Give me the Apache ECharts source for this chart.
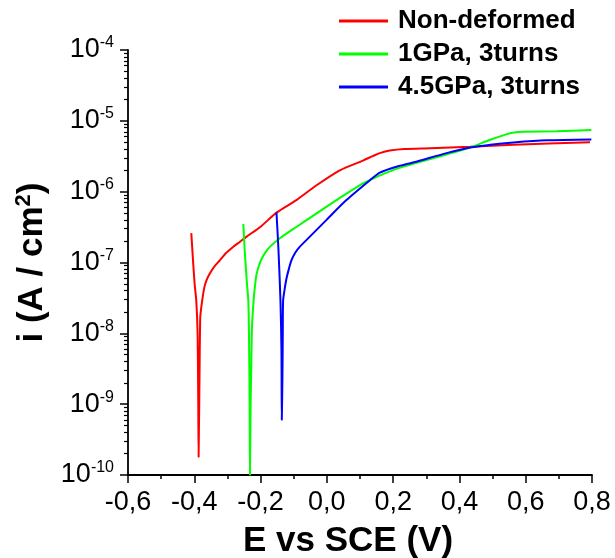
<!DOCTYPE html>
<html>
<head>
<meta charset="utf-8">
<script src="https://cdn.jsdelivr.net/npm/echarts@6/dist/echarts.min.js"></script>
<style>
html,body{margin:0;padding:0;background:#fff;}
#chart{width:615px;height:558px;}
</style>
</head>
<body>
<div id="chart"></div>
<script>
// Series names
var seriesNames = ['Non-deformed', '1GPa, 3turns', '4.5GPa, 3turns'];
var seriesColors = ['#ff0000', '#00ff00', '#0000ff'];

// Non-deformed
var redE = [-0.409, -0.404, -0.399, -0.394, -0.390, -0.388, -0.387, -0.384, -0.382, -0.379, -0.374, -0.369, -0.362, -0.354, -0.340, -0.323, -0.305, -0.283, -0.263, -0.243, -0.200, -0.151, -0.092, -0.031, 0.039, 0.109, 0.140, 0.160, 0.190, 0.234, 0.311, 0.432, 0.563, 0.794];
var redI = [2.6e-7, 1.1e-7, 5.0e-8, 2.9e-8, 1.0e-8, 1.0e-9, 1.8e-10, 3.3e-9, 1.7e-8, 2.3e-8, 3.4e-8, 4.6e-8, 5.8e-8, 6.9e-8, 8.7e-8, 1.07e-7, 1.35e-7, 1.66e-7, 1.95e-7, 2.3e-7, 3.2e-7, 5.1e-7, 7.6e-7, 1.23e-6, 2.0e-6, 2.75e-6, 3.2e-6, 3.5e-6, 3.8e-6, 4.0e-6, 4.1e-6, 4.3e-6, 4.6e-6, 5.0e-6];

// 1GPa, 3turns
var greenE = [-0.252, -0.248, -0.241, -0.237, -0.235, -0.233, -0.232, -0.230, -0.228, -0.226, -0.221, -0.217, -0.212, -0.205, -0.197, -0.185, -0.172, -0.142, -0.091, -0.032, 0.029, 0.099, 0.150, 0.160, 0.210, 0.263, 0.361, 0.432, 0.493, 0.543, 0.570, 0.593, 0.693, 0.798];
var greenI = [3.5e-7, 1.5e-7, 5.0e-8, 2.9e-8, 1.0e-8, 1.0e-9, 1.0e-10, 1.0e-9, 3.4e-9, 1.2e-8, 2.9e-8, 4.6e-8, 6.9e-8, 9.0e-8, 1.12e-7, 1.4e-7, 1.66e-7, 2.2e-7, 3.2e-7, 4.9e-7, 7.6e-7, 1.23e-6, 1.62e-6, 1.7e-6, 2.1e-6, 2.5e-6, 3.35e-6, 4.2e-6, 5.4e-6, 6.5e-6, 6.9e-6, 7.0e-6, 7.15e-6, 7.4e-6];

// 4.5GPa, 3turns
var blueE = [-0.152, -0.146, -0.140, -0.137, -0.136, -0.134, -0.133, -0.132, -0.127, -0.122, -0.115, -0.107, -0.095, -0.082, -0.052, -0.001, 0.059, 0.130, 0.160, 0.210, 0.263, 0.361, 0.432, 0.500, 0.563, 0.663, 0.798];
var blueI = [5.1e-7, 1.5e-7, 2.9e-8, 5.8e-9, 6.0e-10, 2.5e-9, 1.0e-8, 2.9e-8, 4.3e-8, 5.9e-8, 8.0e-8, 1.07e-7, 1.38e-7, 1.66e-7, 2.3e-7, 4.0e-7, 7.6e-7, 1.45e-6, 1.86e-6, 2.25e-6, 2.6e-6, 3.5e-6, 4.2e-6, 4.65e-6, 4.95e-6, 5.3e-6, 5.45e-6];

// Axis ranges / ticks
var xMin = -0.6, xMax = 0.8, xInterval = 0.2;
var yDecades = [-10, -9, -8, -7, -6, -5, -4];

function pairs(xs, ys) {
  var out = [];
  for (var k = 0; k < xs.length; k++) out.push([xs[k], ys[k]]);
  return out;
}

var minorY = [];
for (var d = 0; d < yDecades.length - 1; d++) {
  for (var m = 2; m <= 9; m++) minorY.push(m * Math.pow(10, yDecades[d]));
}

var chart = echarts.init(document.getElementById('chart'), null, {renderer: 'canvas'});
var fontFam = '"Liberation Sans", Arial, sans-serif';

function lineSeries(idx, xs, ys) {
  return {
    name: seriesNames[idx], type: 'line', data: pairs(xs, ys),
    showSymbol: false, symbol: 'none', smooth: 0.25,
    lineStyle: {color: seriesColors[idx], width: 2}, itemStyle: {color: seriesColors[idx]}, z: 2 + idx
  };
}

var option = {
  backgroundColor: '#ffffff',
  animation: false,
  legend: {
    orient: 'vertical',
    left: 339,
    top: 8,
    padding: 0,
    itemWidth: 49,
    itemHeight: 3,
    itemGap: 7,
    icon: 'rect',
    data: seriesNames,
    textStyle: {fontFamily: fontFam, fontSize: 26, fontWeight: 'bold', color: '#000', padding: [0, 0, 0, 5]}
  },
  grid: {left: 128, right: 23, top: 50, bottom: 83, containLabel: false, outerBoundsMode: 'none'},
  xAxis: {
    type: 'value',
    min: xMin,
    max: xMax,
    interval: xInterval,
    name: 'E vs SCE (V)',
    nameLocation: 'middle',
    nameGap: 49,
    nameTextStyle: {fontFamily: fontFam, fontSize: 35, fontWeight: 'bold', color: '#000', padding: [0, 24, 0, 0]},
    axisLine: {show: true, onZero: false, lineStyle: {color: '#000', width: 1.8}},
    axisTick: {show: true, length: 8, lineStyle: {color: '#000', width: 1.5}},
    minorTick: {show: true, splitNumber: 2, length: 4, lineStyle: {color: '#000', width: 1.5}},
    splitLine: {show: false},
    axisLabel: {
      fontFamily: fontFam, fontSize: 27, color: '#000', margin: 14,
      formatter: function (v) {
        if (Math.abs(v) < 1e-9) return '0,0';
        return v.toFixed(1).replace('.', ',');
      }
    }
  },
  yAxis: [{
    type: 'log',
    logBase: 10,
    min: 1e-10,
    max: 1e-4,
    position: 'left',
    name: '{t|i (A / cm}{sup|2}{t|)}',
    nameLocation: 'middle',
    nameRotate: 90,
    nameGap: 66,
    nameTextStyle: {
      rich: {
        t: {fontFamily: fontFam, fontSize: 35, fontWeight: 'bold', color: '#000'},
        sup: {fontFamily: fontFam, fontSize: 22, fontWeight: 'bold', color: '#000', padding: [0, 0, 18, 0]}
      }
    },
    axisLine: {show: true, onZero: false, lineStyle: {color: '#000', width: 1.8}},
    axisTick: {show: true, length: 8, lineStyle: {color: '#000', width: 1.5}},
    splitLine: {show: false},
    minorTick: {show: false},
    axisLabel: {
      margin: 14,
      formatter: function (v) {
        var e = Math.round(Math.log(v) / Math.LN10);
        return '{b|10}{s|' + e + '}';
      },
      rich: {
        b: {fontFamily: fontFam, fontSize: 27, color: '#000'},
        s: {fontFamily: fontFam, fontSize: 16, color: '#000', padding: [0, 0, 14, 0]}
      }
    }
  }, {
    type: 'log',
    logBase: 10,
    min: 1e-10,
    max: 1e-4,
    position: 'left',
    axisLine: {show: false, onZero: false},
    axisLabel: {show: false},
    splitLine: {show: false},
    axisTick: {show: true, length: 4, customValues: minorY, lineStyle: {color: '#000', width: 1.2}}
  }],
  series: [
    lineSeries(0, redE, redI),
    lineSeries(1, greenE, greenI),
    lineSeries(2, blueE, blueI)
  ]
};
chart.setOption(option);
</script>
</body>
</html>
